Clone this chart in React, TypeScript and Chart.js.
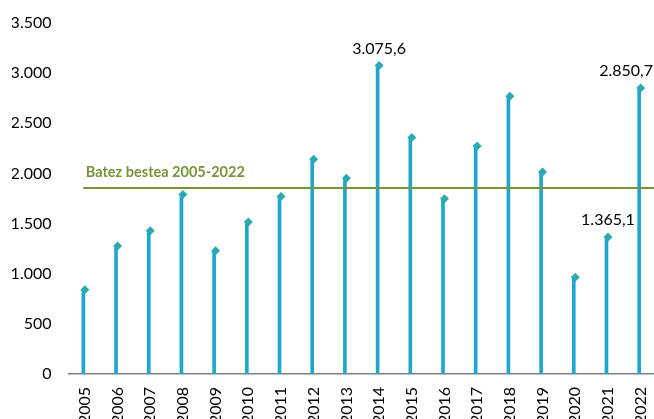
import React, { useEffect, useRef } from "react";
import { Chart, registerables } from "chart.js";

Chart.register(...registerables);

const years = ["2005","2006","2007","2008","2009","2010","2011","2012","2013","2014","2015","2016","2017","2018","2019","2020","2021","2022"];
const values = [840, 1275, 1428, 1790, 1228, 1514, 1770, 2140, 1952, 3075.6, 2357, 1748, 2273, 2770, 2013, 964, 1365.1, 2850.7];
const labelledYears = ["2014", "2021", "2022"];
const average = values.reduce((a, b) => a + b, 0) / values.length;
const averageLabel = "Batez bestea 2005-2022";
const yTicks = [0, 500, 1000, 1500, 2000, 2500, 3000, 3500];

const STEM = "#1FA5CF";
const MARK = "#2BAAB4";
const GREEN = "#77933C";
const FONT = "Lato";

function fmt(v: number, decimals: number): string {
  const neg = v < 0;
  const s = Math.abs(v).toFixed(decimals);
  const [intPart, dec] = s.split(".");
  const grouped = intPart.replace(/\B(?=(\d{3})+(?!\d))/g, ".");
  return (neg ? "-" : "") + grouped + (dec ? "," + dec : "");
}

const labelPlugin = {
  id: "valueLabels",
  afterDatasetsDraw(chart: any) {
    const ctx = chart.ctx;
    const meta = chart.getDatasetMeta(1);
    ctx.save();
    ctx.font = `16px ${FONT}`;
    ctx.fillStyle = "#000000";
    ctx.textBaseline = "middle";
    ctx.textAlign = "left";
    years.forEach((y, i) => {
      if (!labelledYears.includes(y)) return;
      const el = meta.data[i];
      const txt = fmt(values[i], 1);
      const w = ctx.measureText(txt).width;
      let x = el.x - w / 2;
      if (x + w > 653) x = 653 - w;
      ctx.fillText(txt, x, el.y - 17);
    });
    const ys = chart.scales.y.getPixelForValue(average);
    const xs = chart.scales.x.getPixelForValue(0);
    ctx.font = `bold 14.5px ${FONT}`;
    ctx.fillStyle = GREEN;
    ctx.fillText(averageLabel, xs + 1, ys - 16);
    ctx.restore();
  },
};

export default function App() {
  const ref = useRef<HTMLCanvasElement | null>(null);
  useEffect(() => {
    if (!ref.current) return;
    const chart = new Chart(ref.current, {
      type: "bar",
      data: {
        labels: years,
        datasets: [
          {
            type: "bar",
            data: values,
            backgroundColor: STEM,
            barThickness: 3,
            order: 3,
          } as any,
          {
            type: "line",
            data: values,
            showLine: false,
            pointStyle: "rectRot",
            pointRadius: 4.5,
            pointBackgroundColor: MARK,
            pointBorderColor: MARK,
            pointBorderWidth: 0,
            order: 1,
          } as any,
          {
            type: "line",
            xAxisID: "x2",
            data: [
              { x: -0.05, y: average },
              { x: 17.5, y: average },
            ],
            borderColor: GREEN,
            borderWidth: 2,
            pointRadius: 0,
            order: 2,
          } as any,
        ],
      },
      options: {
        animation: false,
        responsive: true,
        maintainAspectRatio: false,
        layout: { padding: { left: 12, top: 23, right: 0, bottom: 0 } },
        plugins: { legend: { display: false }, tooltip: { enabled: false } },
        scales: {
          x: {
            type: "category",
            offset: true,
            grid: { display: false, drawTicks: false },
            border: { display: true, color: "#7F7F7F", width: 1.5 },
            ticks: {
              minRotation: 90,
              maxRotation: 90,
              padding: 13,
              color: "#000000",
              font: { family: FONT, size: 16 },
            },
          },
          x2: {
            type: "linear",
            display: false,
            offset: false,
            min: -0.5,
            max: 17.5,
          } as any,
          y: {
            min: 0,
            max: 3500,
            afterBuildTicks: (axis: any) => {
              axis.ticks = yTicks.map((v) => ({ value: v }));
            },
            afterFit: (axis: any) => {
              axis.width = 56.5;
              axis.paddingTop = 0;
              axis.paddingBottom = 0;
            },
            grid: { display: false, drawTicks: false },
            border: { display: false },
            ticks: {
              padding: 17,
              color: "#000000",
              font: { family: FONT, size: 16 },
              callback: (v: any) => fmt(Number(v), 0),
            },
          },
        },
      },
      plugins: [labelPlugin],
    });
    return () => chart.destroy();
  }, []);
  return (
    <div style={{ position: "absolute", left: 0, top: 0, width: 654, height: 419, overflow: "hidden", background: "#fff" }}>
      <div style={{ position: "absolute", left: 0, top: 0, width: 673, height: 437 }}>
        <canvas ref={ref} />
      </div>
    </div>
  );
}
